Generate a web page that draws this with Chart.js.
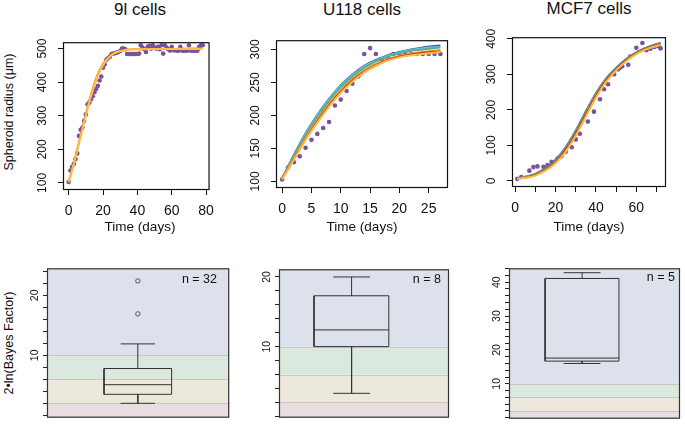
<!DOCTYPE html>
<html>
<head>
<meta charset="utf-8">
<script src="https://cdn.jsdelivr.net/npm/chart.js@4/dist/chart.umd.min.js"></script>
<style>
body { margin: 0; background: #fff; }
#fig { position: relative; width: 685px; height: 426px; overflow: hidden; font-family: "Liberation Sans", Arial, sans-serif; color: #111; }
#fig canvas { position: absolute; }
.lbl { position: absolute; white-space: nowrap; transform: translate(-50%, -50%); }
.vert { transform: translate(-50%, -50%) rotate(-90deg); }
.nlab { position: absolute; white-space: nowrap; transform: translate(-100%, -50%); font-size: 12.5px; }
</style>
</head>
<body>
<div id="fig">
  <canvas id="g9l"></canvas>
  <canvas id="gU118"></canvas>
  <canvas id="gMCF7"></canvas>
  <canvas id="b9l"></canvas>
  <canvas id="bU118"></canvas>
  <canvas id="bMCF7"></canvas>

  <div class="lbl" style="left:140px;top:10px;font-size:17px">9l cells</div>
  <div class="lbl" style="left:362px;top:10px;font-size:17px">U118 cells</div>
  <div class="lbl" style="left:589px;top:9px;font-size:17px">MCF7 cells</div>
  <div class="lbl vert" style="left:9px;top:112px;font-size:12.5px">Spheroid radius (μm)</div>
  <div class="lbl" style="left:140px;top:226px;font-size:13.5px">Time (days)</div>
  <div class="lbl" style="left:362px;top:226px;font-size:13.5px">Time (days)</div>
  <div class="lbl" style="left:589px;top:226px;font-size:13.5px">Time (days)</div>
  <div class="lbl vert" style="left:9px;top:343px;font-size:12.5px">2•ln(Bayes Factor)</div>
  <div class="nlab" style="left:217px;top:279px">n = 32</div>
  <div class="nlab" style="left:441px;top:279px">n = 8</div>
  <div class="nlab" style="left:675px;top:277px">n = 5</div>
</div>
<script>
Chart.defaults.font.family = '"Liberation Sans", Arial, sans-serif';
Chart.defaults.color = '#111';

// ---- growth data (top row) ----
var days9l = [0,1,2,3,4,5,6,7,8,9,10,11,12,13,14,15,16,17,18,19,20,21,22,23,24,25,26,27,28,29,30,31,32,33,34,35,36,37,38,39,40,41,42,43,44,45,46,47,48,49,50,51,52,53,54,55,56,57,58,59,60,61,62,63,64,65,66,67,68,69,70,71,72,73,74,75,76,77,78];
var radius9l = [103,137,148,157,171,188,240,258,265,285,304,334,339,349,358,370,380,389,405,417,443,453,467,472,476,484,485,486,488,490,493,500,500,498,484,484,484,484,484,484,484,485,510,503,498,490,505,508,500,510,503,500,505,498,510,485,510,503,498,494,505,495,495,494,494,505,494,494,494,494,510,494,494,494,494,494,505,510,510];
var fitDays9l = [0,2,4,6,8,10,12,14,16,18,20,22,24,26,28,30,34,40,50,60,70,78];
var fit9lOrange = [103,140,180,222,264,305,345,381,412,436,454,468,478,485,490,493,497,498,499,499,500,500];
var fit9lYellow = [102,137,176,217,258,299,339,375,406,431,450,465,476,484,489,492,496,498,499,499,499,499];
var xTicks9l = [0,20,40,60,80];
var yTicks9l = [100,200,300,400,500];

var daysU118 = [0,1,2,3,4,5,6,7,8,9,10,11,12,13,14,15,16,17,18,19,20,21,22,23,24,25,26,27];
var radiusU118 = [103,121,129,138,151,163,172,181,190,215,224,237,248,259,293,302,293,285,289,293,293,293,293,293,293,293,293,293];
var fitDaysU118 = [0,2,4,6,8,10,12,14,16,18,20,22,24,27];
var fitU118Blue = [105,140,173,201,225,246,262,275,284,291,296,300,303,306];
var fitU118Cyan = [105,139,172,200,224,245,261,274,283,290,295,299,302,304];
var fitU118Green = [104,138,170,198,222,243,259,272,282,289,294,298,300,303];
var fitU118Orange = [104,135,166,193,217,238,255,268,278,285,290,294,296,299];
var fitU118Red = [104,134,164,191,215,236,253,266,276,284,289,292,295,297];
var fitU118Yellow = [103,133,163,189,213,234,251,265,275,283,288,291,293,296];
var xTicksU118 = [0,5,10,15,20,25];
var yTicksU118 = [100,150,200,250,300];

var daysMCF7 = [1,3,7,9,11,14,16,18,21,23,25,28,30,32,36,39,42,44,46,49,51,52,53,56,57,60,63,65,67,69,71,72];
var radiusMCF7 = [6,11,29,39,41,40,45,54,63,70,82,95,117,133,167,195,230,258,272,300,314,319,323,327,350,375,388,368,372,377,379,373];
var fitDaysMCF7 = [1,5,10,15,20,25,30,35,40,45,50,55,60,65,72];
var fitMCF7Blue = [8,12,20,36,60,95,142,196,247,288,318,343,362,375,389];
var fitMCF7Teal = [8,12,19,35,58,93,140,194,245,287,317,342,361,374,388];
var fitMCF7Red = [7,10,17,32,54,88,134,188,240,283,314,340,359,373,385];
var fitMCF7Orange = [7,10,17,31,53,86,132,186,238,281,313,339,358,372,384];
var fitMCF7Yellow = [6,9,15,29,50,82,127,181,234,278,311,337,357,371,383];
var xTicksMCF7 = [0,10,20,30,40,50,60,70];
var xLabelsMCF7 = [0,20,40,60];
var yTicksMCF7 = [0,100,200,300,400];

// ---- 2 ln(Bayes factor) boxes (bottom row): lower whisker, Q1, median, Q3, upper whisker ----
var bf9l = [2.0,3.5,5.1,7.8,11.9];
var bf9lOutliers = [16.9,22.4];
var bfU118 = [3.3,10.0,12.4,17.3,20.0];
var bfMCF7 = [16.0,16.7,17.6,41.1,42.8];
var bfTicks9l = [0,2,4,6,8,10,12,14,16,18,20,22,24];
var bfTicksU118 = [0,2,4,6,8,10,12,14,16,18,20];
var bfTicksMCF7 = [0,2,4,6,8,10,12,14,16,18,20,22,24,26,28,30,32,34,36,38,40,42,44];
var bandEdges = [2,6,10];

var pointColour = '#7b509c';
var fitColours = { blue: '#2f5ea8', cyan: '#74c3e3', green: '#55ae8c', orange: '#f28e2b', red: '#d43d2a', yellow: '#fbbf45' };
var bandColours = ['#e9dde1', '#ece8dc', '#dbe8de', '#dde1ec'];

function xy(xs, ys) {
    return xs.map(function (x, i) { return { x: x, y: ys[i] }; });
}

var framePlugin = {
    id: 'frame',
    beforeDatasetsDraw: function (chart, args, opts) {
        if (!opts.bands) return;
        var ctx = chart.ctx, a = chart.chartArea, y = chart.scales.y;
        var edges = [y.min].concat(bandEdges, [y.max]);
        ctx.save();
        for (var i = 0; i < edges.length - 1; i++) {
            var p0 = y.getPixelForValue(edges[i]), p1 = y.getPixelForValue(edges[i + 1]);
            ctx.fillStyle = bandColours[i];
            ctx.fillRect(a.left, p1, a.right - a.left, p0 - p1);
        }
        ctx.strokeStyle = '#c4c8c2';
        ctx.lineWidth = 1;
        bandEdges.forEach(function (v) {
            var p = Math.round(y.getPixelForValue(v)) + 0.5;
            ctx.beginPath(); ctx.moveTo(a.left, p); ctx.lineTo(a.right, p); ctx.stroke();
        });
        ctx.restore();
    },
    afterDraw: function (chart, args, opts) {
        var ctx = chart.ctx, a = chart.chartArea;
        ctx.save();
        ctx.strokeStyle = opts.colour || '#111';
        ctx.lineWidth = 1.2;
        ctx.strokeRect(a.left + 0.5, a.top + 0.5, a.right - a.left - 1, a.bottom - a.top - 1);
        ctx.restore();
    }
};

function place(c, box, l, t, r, b) {
    c.width = box[2] - box[0] + l + r;
    c.height = box[3] - box[1] + t + b;
    c.style.left = (box[0] - l) + 'px';
    c.style.top = (box[1] - t) + 'px';
}

function growthChart(id, box, cfg) {
    var c = document.getElementById(id);
    place(c, box, 40, 4, 5, 34);
    var datasets = [];
    cfg.fits.forEach(function (f) {
        datasets.push({ data: xy(cfg.fitDays, f[0]), showLine: true, borderColor: f[1], borderWidth: 2,
            pointRadius: 0, fill: false, cubicInterpolationMode: 'monotone' });
    });
    datasets.push({ data: xy(cfg.days, cfg.radius), backgroundColor: pointColour, borderColor: pointColour,
        pointRadius: 2.3, borderWidth: 0 });
    var xLabels = cfg.xLabels || cfg.xTicks;
    new Chart(c, {
        type: 'scatter',
        data: { datasets: datasets },
        options: {
            responsive: false,
            animation: false,
            layout: { padding: { left: 0, top: 4, right: 5, bottom: 0 } },
            plugins: { legend: { display: false }, tooltip: { enabled: false }, frame: {} },
            scales: {
                x: {
                    type: 'linear', min: cfg.xRange[0], max: cfg.xRange[1],
                    afterBuildTicks: function (s) { s.ticks = cfg.xTicks.map(function (v) { return { value: v }; }); },
                    afterFit: function (s) { s.height = 34; },
                    ticks: { font: { size: 14 }, color: '#111', maxRotation: 0, autoSkip: false, padding: 8,
                        callback: function (v) { return xLabels.indexOf(v) >= 0 ? String(v) : ''; } },
                    grid: { drawOnChartArea: false, tickLength: 5, color: '#111' },
                    border: { display: false }
                },
                y: {
                    type: 'linear', min: cfg.yRange[0], max: cfg.yRange[1],
                    afterBuildTicks: function (s) { s.ticks = cfg.yTicks.map(function (v) { return { value: v }; }); },
                    afterFit: function (s) { s.width = 40; },
                    ticks: { font: { size: 12 }, color: '#111', minRotation: 90, maxRotation: 90, crossAlign: 'center',
                        autoSkip: false, padding: 5 },
                    grid: { drawOnChartArea: false, tickLength: 5, color: '#111' },
                    border: { display: false }
                }
            }
        },
        plugins: [framePlugin]
    });
}

function seg(pts, colour, width) {
    return { data: pts, showLine: true, borderColor: colour, borderWidth: width || 1, pointRadius: 0, fill: false };
}

function boxChart(id, box, cfg) {
    var c = document.getElementById(id);
    place(c, box, 30, 4, 4, 4);
    var s = cfg.stats, bx = cfg.boxX, cx = cfg.capX, m = (cx[0] + cx[1]) / 2, col = '#333';
    var datasets = [
        seg([{ x: bx[0], y: s[1] }, { x: bx[1], y: s[1] }, { x: bx[1], y: s[3] }, { x: bx[0], y: s[3] }, { x: bx[0], y: s[1] }], col),
        seg([{ x: bx[0], y: s[2] }, { x: bx[1], y: s[2] }], col),
        seg([{ x: m, y: s[3] }, { x: m, y: s[4] }], col),
        seg([{ x: m, y: s[1] }, { x: m, y: s[0] }], col),
        seg([{ x: cx[0], y: s[4] }, { x: cx[1], y: s[4] }], col),
        seg([{ x: cx[0], y: s[0] }, { x: cx[1], y: s[0] }], col)
    ];
    if (cfg.outliers) {
        datasets.push({ data: cfg.outliers.map(function (v) { return { x: m, y: v }; }), pointRadius: 2.2,
            backgroundColor: 'rgba(0,0,0,0)', borderColor: col, borderWidth: 0.8 });
    }
    new Chart(c, {
        type: 'scatter',
        data: { datasets: datasets },
        options: {
            responsive: false,
            animation: false,
            layout: { padding: { left: 0, top: 4, right: 4, bottom: 4 } },
            plugins: { legend: { display: false }, tooltip: { enabled: false }, frame: { bands: true, colour: '#333' } },
            scales: {
                x: { type: 'linear', min: 0, max: 1, display: false },
                y: {
                    type: 'linear', min: cfg.yRange[0], max: cfg.yRange[1],
                    afterBuildTicks: function (sc) { sc.ticks = cfg.yTicks.map(function (v) { return { value: v }; }); },
                    afterFit: function (sc) { sc.width = 30; },
                    ticks: { font: { size: 10.5 }, color: '#111', minRotation: 90, maxRotation: 90, crossAlign: 'center',
                        autoSkip: false, padding: 2,
                        callback: function (v) { return v % 10 === 0 && v > 0 ? String(v) : ''; } },
                    grid: { drawOnChartArea: false, tickLength: 4, color: '#222' },
                    border: { display: false }
                }
            }
        },
        plugins: [framePlugin]
    });
}

growthChart('g9l', [63, 34, 217, 190], {
    days: days9l, radius: radius9l, fitDays: fitDays9l,
    fits: [[fit9lYellow, fitColours.yellow], [fit9lOrange, fitColours.orange]],
    xTicks: xTicks9l, yTicks: yTicks9l, xRange: [-3.3, 82], yRange: [79, 519]
});
growthChart('gU118', [276, 32, 448, 188], {
    days: daysU118, radius: radiusU118, fitDays: fitDaysU118,
    fits: [[fitU118Yellow, fitColours.yellow], [fitU118Red, fitColours.red], [fitU118Orange, fitColours.orange],
           [fitU118Green, fitColours.green], [fitU118Cyan, fitColours.cyan], [fitU118Blue, fitColours.blue]],
    xTicks: xTicksU118, yTicks: yTicksU118, xRange: [-1.05, 28.3], yRange: [90, 314]
});
growthChart('gMCF7', [512, 29, 666, 187], {
    days: daysMCF7, radius: radiusMCF7, fitDays: fitDaysMCF7,
    fits: [[fitMCF7Yellow, fitColours.yellow], [fitMCF7Red, fitColours.red], [fitMCF7Orange, fitColours.orange],
           [fitMCF7Teal, fitColours.green], [fitMCF7Blue, fitColours.blue]],
    xTicks: xTicksMCF7, xLabels: xLabelsMCF7, yTicks: yTicksMCF7, xRange: [-1.6, 74.7], yRange: [-17, 404.5]
});

boxChart('b9l', [47, 264, 230, 422], {
    stats: bf9l, outliers: bf9lOutliers, boxX: [0.313, 0.684], capX: [0.404, 0.593],
    yTicks: bfTicks9l, yRange: [-0.4, 24.5]
});
boxChart('bU118', [279, 265, 449, 422], {
    stats: bfU118, boxX: [0.206, 0.646], capX: [0.319, 0.535],
    yTicks: bfTicksU118, yRange: [-0.2, 21.1]
});
boxChart('bMCF7', [509, 264, 680, 423], {
    stats: bfMCF7, boxX: [0.211, 0.643], capX: [0.32, 0.535],
    yTicks: bfTicksMCF7, yRange: [-0.3, 44.1]
});
</script>
</body>
</html>
